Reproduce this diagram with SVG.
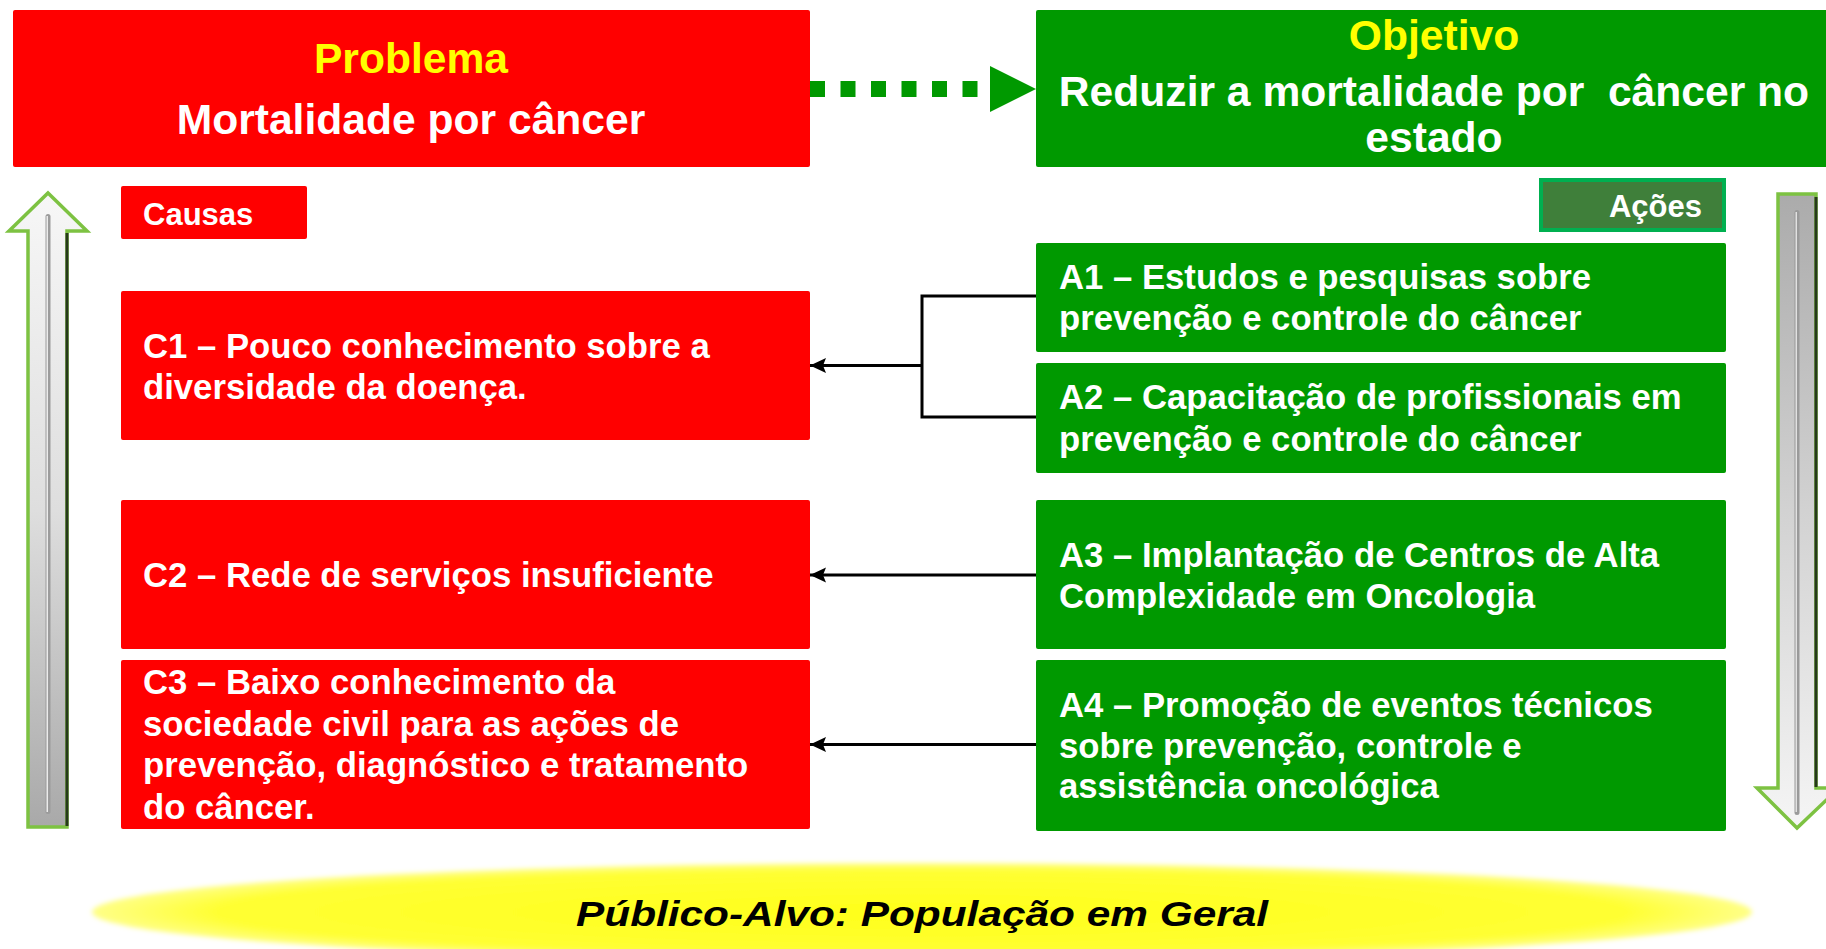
<svg xmlns="http://www.w3.org/2000/svg" width="1826" height="949" viewBox="0 0 1826 949">
<style>
.red{fill:#ff0000}
.grn{fill:#009900}
.t{font-family:"Liberation Sans",Arial,sans-serif;font-weight:bold;fill:#ffffff}
.hd{font-size:42.6px;text-anchor:middle}
.yl{fill:#ffff00}
.bd{font-size:34.7px}
.lb{font-size:31px}
.con{fill:none;stroke:#000000;stroke-width:3}
.arr{stroke:#7dc242;stroke-width:3.5;stroke-linejoin:miter}
.dark{fill:none;stroke:#26391a;stroke-width:3}
</style>
<defs>
<marker id="ah" markerUnits="userSpaceOnUse" markerWidth="18" markerHeight="16" refX="16" refY="8" orient="auto">
<path d="M0,0.5 L16,8 L0,15.5 L3,8 z" fill="#000000"/>
</marker>
<linearGradient id="gUp" x1="0" y1="0" x2="0" y2="1">
<stop offset="0" stop-color="#f7f7f7"/>
<stop offset="0.5" stop-color="#dedede"/>
<stop offset="1" stop-color="#a9a9a9"/>
</linearGradient>
<linearGradient id="gDown" x1="0" y1="0" x2="0" y2="1">
<stop offset="0" stop-color="#ababab"/>
<stop offset="0.5" stop-color="#d2d2d2"/>
<stop offset="1" stop-color="#f5f5f5"/>
</linearGradient>
<radialGradient id="gEl" cx="0.5" cy="0.5" r="0.5">
<stop offset="0" stop-color="#ffff1a"/>
<stop offset="0.85" stop-color="#ffff33"/>
<stop offset="1" stop-color="#ffff88"/>
</radialGradient>
<filter id="soft" x="-0.05" y="-0.3" width="1.1" height="1.6">
<feGaussianBlur stdDeviation="2.5"/>
</filter>
</defs>

<g id="publico-alvo">
<ellipse cx="922" cy="912" rx="830" ry="49" fill="url(#gEl)" filter="url(#soft)"/>
<text x="922" y="926" font-family="'Liberation Sans',Arial,sans-serif" font-weight="bold" font-style="italic" font-size="35" fill="#000000" text-anchor="middle" textLength="692" lengthAdjust="spacingAndGlyphs">Público-Alvo: População em Geral</text>
</g>

<g id="seta-causas">
<polygon class="arr" points="48,193 87,231 67,231 67,827 28,827 28,231 9,231" fill="url(#gUp)"/>
<path class="dark" d="M67,233 V826"/>
<rect x="45.5" y="214" width="5" height="600" rx="2.5" fill="#9c9c9c"/>
<rect x="46.5" y="216" width="1.5" height="596" fill="#ffffff" opacity="0.8"/>
</g>

<g id="seta-acoes">
<polygon class="arr" points="1778,194 1816,194 1816,788 1839,788 1797,828 1757,788 1778,788" fill="url(#gDown)"/>
<path class="dark" d="M1816,197 V787"/>
<rect x="1794.5" y="210" width="5" height="605" rx="2.5" fill="#9a9a9a"/>
<rect x="1795.5" y="212" width="1.5" height="600" fill="#ffffff" opacity="0.7"/>
</g>

<g id="problema">
<rect class="red" x="13" y="10" width="797" height="157" rx="2"/>
<text class="t hd yl" x="411" y="73">Problema</text>
<text class="t hd" x="411" y="134">Mortalidade por câncer</text>
</g>

<g id="objetivo">
<rect class="grn" x="1036" y="10" width="800" height="157" rx="2"/>
<text class="t hd yl" x="1434" y="50">Objetivo</text>
<text class="t hd" x="1434" y="106" xml:space="preserve">Reduzir a mortalidade por  câncer no</text>
<text class="t hd" x="1434" y="152">estado</text>
</g>

<g id="causas">
<rect class="red" x="121" y="186" width="186" height="53" rx="2"/>
<text class="t lb" x="143" y="225">Causas</text>
</g>

<g id="acoes">
<rect x="1541" y="180" width="183" height="50" fill="#3f7f3a" stroke="#00b050" stroke-width="4"/>
<text class="t lb" x="1702" y="217" text-anchor="end">Ações</text>
</g>

<g id="c1">
<rect class="red" x="121" y="291" width="689" height="149" rx="2"/>
<text class="t bd" x="143" y="358">C1 – Pouco conhecimento sobre a</text>
<text class="t bd" x="143" y="399">diversidade da doença.</text>
</g>

<g id="c2">
<rect class="red" x="121" y="500" width="689" height="149" rx="2"/>
<text class="t bd" x="143" y="587">C2 – Rede de serviços insuficiente</text>
</g>

<g id="c3">
<rect class="red" x="121" y="660" width="689" height="169" rx="2"/>
<text class="t bd" x="143" y="694">C3 – Baixo conhecimento da</text>
<text class="t bd" x="143" y="736">sociedade civil para as ações de</text>
<text class="t bd" x="143" y="777">prevenção, diagnóstico e tratamento</text>
<text class="t bd" x="143" y="819">do câncer.</text>
</g>

<g id="a1">
<rect class="grn" x="1036" y="243" width="690" height="109" rx="2"/>
<text class="t bd" x="1059" y="289">A1 – Estudos e pesquisas sobre</text>
<text class="t bd" x="1059" y="330">prevenção e controle do câncer</text>
</g>

<g id="a2">
<rect class="grn" x="1036" y="363" width="690" height="110" rx="2"/>
<text class="t bd" x="1059" y="409">A2 – Capacitação de profissionais em</text>
<text class="t bd" x="1059" y="451">prevenção e controle do câncer</text>
</g>

<g id="a3">
<rect class="grn" x="1036" y="500" width="690" height="149" rx="2"/>
<text class="t bd" x="1059" y="567">A3 – Implantação de Centros de Alta</text>
<text class="t bd" x="1059" y="608">Complexidade em Oncologia</text>
</g>

<g id="a4">
<rect class="grn" x="1036" y="660" width="690" height="171" rx="2"/>
<text class="t bd" x="1059" y="717">A4 – Promoção de eventos técnicos</text>
<text class="t bd" x="1059" y="758">sobre prevenção, controle e</text>
<text class="t bd" x="1059" y="798">assistência oncológica</text>
</g>

<g id="connectors">
<path d="M810,89 H978" fill="none" stroke="#009900" stroke-width="16" stroke-dasharray="15 15.5"/>
<polygon points="990,66 1036,89 990,112" fill="#009900"/>
<path class="con" d="M1036,296 H922 V417 H1036"/>
<path class="con" d="M922,365.5 H810" marker-end="url(#ah)"/>
<path class="con" d="M1036,575 H810" marker-end="url(#ah)"/>
<path class="con" d="M1036,744.5 H810" marker-end="url(#ah)"/>
</g>
</svg>
